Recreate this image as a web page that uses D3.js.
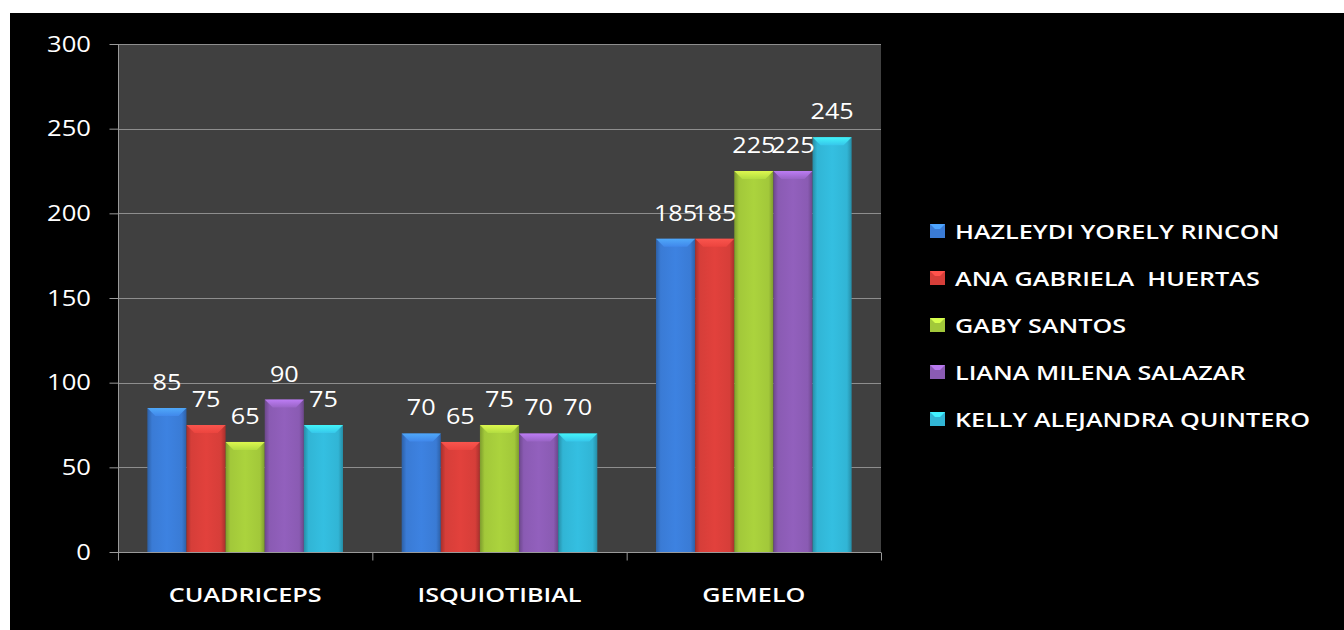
<!DOCTYPE html>
<html>
<head>
<meta charset="utf-8">
<script src="https://cdn.jsdelivr.net/npm/d3@7"></script>
<style>
html,body{margin:0;padding:0;background:#fff;}
svg{display:block;}
text{font-family:"Open Sans",sans-serif;fill:#fff;white-space:pre;}
</style>
</head>
<body>
<svg id="chart" width="1344" height="630"></svg>
<script>
const categories = ["CUADRICEPS", "ISQUIOTIBIAL", "GEMELO"];
const seriesNames = ["HAZLEYDI YORELY RINCON", "ANA GABRIELA  HUERTAS", "GABY SANTOS", "LIANA MILENA SALAZAR", "KELLY ALEJANDRA QUINTERO"];
const hazleydi = [85, 70, 185];
const anaGabriela = [75, 65, 185];
const gabySantos = [65, 75, 225];
const lianaMilena = [90, 70, 225];
const kellyAlejandra = [75, 70, 245];
const seriesValues = [hazleydi, anaGabriela, gabySantos, lianaMilena, kellyAlejandra];
const yTicks = [0, 50, 100, 150, 200, 250, 300];
const seriesColors = ["#3a7bd5", "#d63e39", "#a2c83a", "#8a5bb3", "#31b5d5"];

const svg = d3.select("#chart");

// background: white frame top/left, black panel
svg.append("rect").attr("x",0).attr("y",0).attr("width",1344).attr("height",630).attr("fill","#fff");
svg.append("rect").attr("x",10).attr("y",13).attr("width",1334).attr("height",617).attr("fill","#000");

const plot = {left:118, right:881, top:44, bottom:552};
const x0 = d3.scaleBand().domain(categories).range([plot.left, plot.right]).paddingInner(0).paddingOuter(0);
const x1 = d3.scaleBand().domain(d3.range(seriesNames.length)).range([0, x0.bandwidth()]).paddingInner(0).paddingOuter(0.75);
const y = d3.scaleLinear().domain([0,300]).range([plot.bottom, plot.top]);

// plot area
svg.append("rect").attr("x",plot.left).attr("y",plot.top).attr("width",plot.right-plot.left).attr("height",plot.bottom-plot.top).attr("fill","#404040");

// gridlines
svg.append("g").selectAll("line").data(yTicks.filter(t=>t>0)).join("line")
  .attr("x1",plot.left).attr("x2",plot.right)
  .attr("y1",d=>Math.round(y(d))+0.5).attr("y2",d=>Math.round(y(d))+0.5)
  .attr("stroke","#8e8e8e").attr("stroke-width",1);

// y axis
const yAxis = svg.append("g").attr("transform",`translate(${plot.left+0.5},0)`)
  .call(d3.axisLeft(y).tickValues(yTicks).tickSize(9).tickFormat(""));
yAxis.selectAll("path,line").attr("stroke","#9a9a9a");
yAxis.select(".domain").attr("d",`M0,${plot.top}V${plot.bottom}`);

function stretchedText(parent, x, yy, txt, size, anchor, sx, weight){
  const g = parent.append("g").attr("transform",`translate(${x},${yy}) scale(${sx},1)`);
  g.append("text").attr("x",0).attr("y",0).attr("text-anchor",anchor).attr("font-size",size)
    .attr("font-weight",weight||400).attr("xml:space","preserve").text(txt);
  return g;
}
const yLab = svg.append("g");
yTicks.forEach(t=>stretchedText(yLab, 91, y(t)+7.5, String(t), 21, "end", 1.22, 500));

// x axis
const xAxisG = svg.append("g").attr("transform",`translate(0,${plot.bottom+0.5})`);
xAxisG.append("line").attr("x1",plot.left).attr("x2",plot.right).attr("y1",0).attr("y2",0).attr("stroke","#9a9a9a");
const bounds = [plot.left, ...categories.map(c=>x0(c)+x0.bandwidth())];
xAxisG.selectAll("line.tk").data(bounds).join("line").attr("class","tk")
  .attr("x1",d=>d+0.5).attr("x2",d=>d+0.5).attr("y1",0).attr("y2",8).attr("stroke","#9a9a9a");
categories.forEach(c=>stretchedText(svg, x0(c)+x0.bandwidth()/2, 602, c, 20, "middle", 1.26, 600));

// gradients
const defs = svg.append("defs");
seriesColors.forEach((col,i)=>{
  const c = d3.color(col);
  const gr = defs.append("linearGradient").attr("id","g"+i).attr("x1","0").attr("x2","1").attr("y1","0").attr("y2","0");
  gr.append("stop").attr("offset","0").attr("stop-color",c.darker(0.7));
  gr.append("stop").attr("offset","0.12").attr("stop-color",c);
  gr.append("stop").attr("offset","0.5").attr("stop-color",c.brighter(0.15));
  gr.append("stop").attr("offset","0.88").attr("stop-color",c);
  gr.append("stop").attr("offset","1").attr("stop-color",c.darker(0.7));
  const tg = defs.append("linearGradient").attr("id","t"+i).attr("x1","0").attr("x2","0").attr("y1","0").attr("y2","1");
  tg.append("stop").attr("offset","0").attr("stop-color",c.brighter(1.0));
  tg.append("stop").attr("offset","1").attr("stop-color",c.brighter(0.3));
});

// bars
const barsG = svg.append("g");
const labelsG = svg.append("g");
categories.forEach((cat,ci)=>{
  seriesValues.forEach((vals,si)=>{
    const v = vals[ci];
    const bx = x0(cat) + x1(si);
    const bw = x1.bandwidth();
    const by = y(v);
    const bh = y(0) - by;
    barsG.append("rect").attr("x",bx).attr("y",by).attr("width",bw).attr("height",bh).attr("fill",`url(#g${si})`);
    const bev = 8;
    barsG.append("path")
      .attr("d",`M${bx},${by}L${bx+bw},${by}L${bx+bw-bev},${by+bev}L${bx+bev},${by+bev}Z`)
      .attr("fill",`url(#t${si})`).attr("opacity",0.85);
    stretchedText(labelsG, bx + bw/2, by - 18, String(v), 21, "middle", 1.2, 500);
  });
});

// legend
const legend = svg.append("g");
seriesNames.forEach((n,i)=>{
  const cy = 231 + i*47;
  const c = d3.color(seriesColors[i]);
  legend.append("rect").attr("x",930).attr("y",cy-7).attr("width",15).attr("height",14).attr("fill",c);
  legend.append("path").attr("d",`M930,${cy-7}L945,${cy-7}L940,${cy-2}L935,${cy-2}Z`).attr("fill",c.brighter(0.8));
  stretchedText(legend, 955, cy+7.5, n, 20, "start", 1.26, 600);
});
</script>
</body>
</html>
